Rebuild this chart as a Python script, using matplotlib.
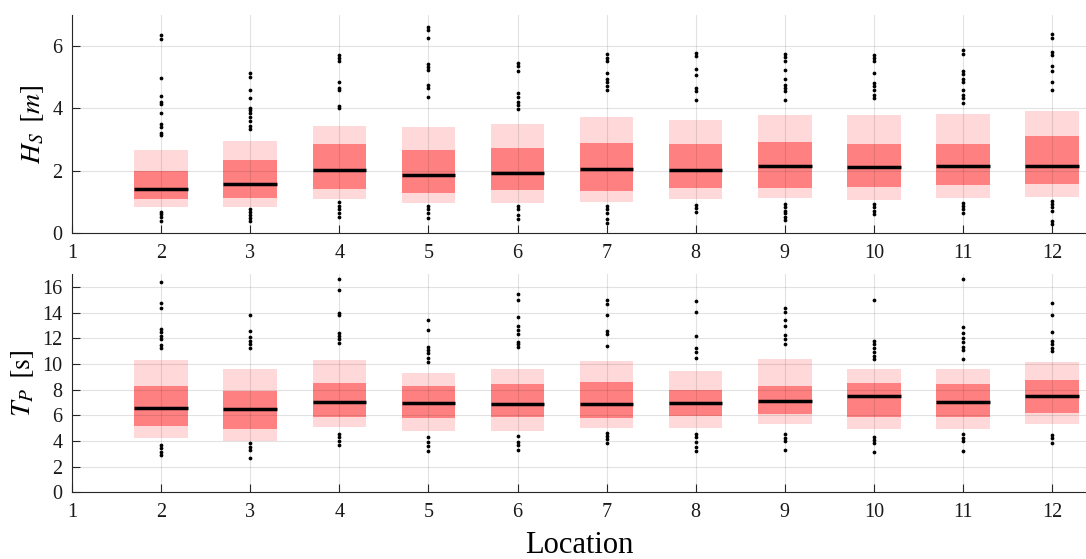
import matplotlib
matplotlib.use("Agg")
import matplotlib.pyplot as plt
import numpy as np

plt.rcParams['font.family'] = ['Liberation Serif', 'DejaVu Serif']
plt.rcParams['mathtext.fontset'] = 'stix'

locations = [2, 3, 4, 5, 6, 7, 8, 9, 10, 11, 12]
xtick_labels = ['1', '2', '3', '4', '5', '6', '7', '8', '9', '10', '11', '12']

# Significant wave height Hs [m]
hs_p05 = [0.83, 0.82, 1.09, 0.97, 0.97, 1.01, 1.08, 1.12, 1.06, 1.12, 1.16]
hs_q1 = [1.08, 1.11, 1.42, 1.29, 1.39, 1.36, 1.43, 1.43, 1.48, 1.55, 1.57]
hs_med = [1.42, 1.57, 2.03, 1.85, 1.92, 2.07, 2.01, 2.15, 2.12, 2.14, 2.16]
hs_q3 = [1.99, 2.36, 2.85, 2.67, 2.73, 2.89, 2.87, 2.92, 2.85, 2.86, 3.10]
hs_p95 = [2.66, 2.95, 3.43, 3.39, 3.50, 3.74, 3.62, 3.80, 3.79, 3.81, 3.91]
hs_out = [
    [6.35, 6.24, 4.99, 4.40, 4.21, 4.13, 3.86, 3.49, 3.41, 3.21, 3.16, 0.68, 0.61, 0.52, 0.39],
    [5.14, 5.01, 4.60, 4.34, 4.02, 3.94, 3.84, 3.73, 3.60, 3.43, 3.33, 0.76, 0.66, 0.58, 0.47, 0.39],
    [5.71, 5.63, 5.51, 4.85, 4.64, 4.58, 4.08, 4.02, 0.98, 0.88, 0.77, 0.63, 0.50],
    [6.63, 6.51, 6.27, 5.42, 5.33, 5.25, 4.74, 4.64, 4.37, 0.87, 0.76, 0.63, 0.47],
    [5.46, 5.35, 5.20, 4.48, 4.37, 4.21, 4.10, 3.97, 0.88, 0.76, 0.58, 0.44],
    [5.74, 5.63, 5.52, 5.14, 4.94, 4.85, 4.71, 4.58, 0.88, 0.76, 0.63, 0.44, 0.33],
    [5.78, 5.67, 5.28, 5.06, 4.67, 4.56, 4.26, 0.90, 0.79, 0.68],
    [5.76, 5.65, 5.52, 5.25, 4.94, 4.74, 4.67, 4.56, 4.28, 0.92, 0.82, 0.71, 0.63, 0.52, 0.42],
    [5.71, 5.63, 5.52, 5.14, 4.82, 4.71, 4.60, 4.42, 4.32, 0.93, 0.82, 0.71, 0.61],
    [5.87, 5.76, 5.20, 5.10, 4.93, 4.85, 4.60, 4.44, 4.32, 4.18, 0.97, 0.87, 0.76, 0.63],
    [6.38, 6.27, 5.81, 5.71, 5.36, 5.20, 4.85, 4.58, 1.04, 0.93, 0.82, 0.71, 0.39, 0.30],
]

# Peak period Tp [s]
tp_p05 = [4.25, 4.00, 5.10, 4.80, 4.80, 5.03, 4.98, 5.32, 4.95, 4.93, 5.29]
tp_q1 = [5.16, 4.93, 5.86, 5.76, 5.84, 5.81, 5.94, 6.09, 5.88, 5.84, 6.20]
tp_med = [6.56, 6.51, 7.00, 6.97, 6.87, 6.90, 6.95, 7.13, 7.47, 7.03, 7.52]
tp_q3 = [8.27, 7.88, 8.53, 8.27, 8.40, 8.56, 7.96, 8.27, 8.48, 8.43, 8.72]
tp_p95 = [10.30, 9.57, 10.30, 9.26, 9.57, 10.24, 9.46, 10.37, 9.60, 9.60, 10.12]
tp_out = [
    [16.34, 14.76, 14.32, 12.71, 12.50, 12.16, 11.90, 11.46, 11.25, 3.68, 3.42, 3.16, 2.90],
    [13.80, 12.60, 12.06, 11.80, 11.52, 11.20, 3.81, 3.55, 3.29, 2.64],
    [16.60, 15.74, 14.00, 13.80, 12.37, 12.16, 11.90, 11.60, 4.54, 4.28, 4.02, 3.68],
    [13.41, 12.63, 11.33, 11.07, 10.82, 10.43, 10.16, 4.28, 3.94, 3.60, 3.19],
    [15.41, 14.96, 13.67, 12.94, 12.63, 12.30, 11.72, 11.54, 11.28, 4.38, 3.94, 3.68, 3.29],
    [14.96, 14.70, 13.80, 12.60, 12.32, 11.40, 4.64, 4.38, 4.12, 3.81],
    [14.91, 14.06, 12.19, 11.20, 10.95, 10.43, 4.54, 4.28, 3.94, 3.55, 3.24],
    [14.32, 14.06, 13.41, 12.94, 12.24, 11.90, 11.52, 4.51, 4.25, 3.99, 3.29],
    [14.96, 11.80, 11.52, 11.20, 10.95, 10.60, 10.35, 4.33, 4.07, 3.86, 3.16],
    [16.60, 12.84, 12.42, 11.98, 11.72, 11.33, 11.07, 10.35, 4.51, 4.25, 3.99, 3.24],
    [14.71, 13.80, 12.50, 11.80, 11.52, 11.25, 10.99, 4.46, 4.20, 3.86],
]

W, H = 1086, 559
fig = plt.figure(figsize=(W / 100, H / 100), dpi=100)
ax1 = fig.add_axes([72 / W, 1 - 233 / H, 1 - 72 / W, (233 - 15) / H])
ax2 = fig.add_axes([72 / W, 1 - 492.3 / H, 1 - 72 / W, (492.3 - 274) / H])

light = '#FFD9D9'
dark = '#FF8080'
axcol = '#262626'
bw = 0.6


def draw(ax, p05, q1, med, q3, p95, outs, ylim, yticks, ylabel):
    x = np.array(locations, dtype=float)
    ax.bar(x, np.array(p95) - np.array(p05), bottom=p05, width=bw,
           color=light, linewidth=0, zorder=1)
    ax.bar(x, np.array(q3) - np.array(q1), bottom=q1, width=bw,
           color=dark, linewidth=0, zorder=2)
    ax.hlines(med, x - bw / 2, x + bw / 2, colors='black', linewidth=2.5, zorder=4)
    for xi, o in zip(locations, outs):
        ax.plot([xi] * len(o), o, 'o', color='black', markersize=2.7,
                markeredgewidth=0, zorder=5)
    ax.set_xlim(1, 12.38)
    ax.set_ylim(*ylim)
    ax.set_xticks(range(1, 13))
    ax.set_xticklabels(xtick_labels)
    ax.set_yticks(yticks)
    ax.grid(True, color=(0.15, 0.15, 0.15), alpha=0.13, linewidth=0.8, zorder=3)
    ax.set_axisbelow(False)
    for s in ['top', 'right']:
        ax.spines[s].set_visible(False)
    for s in ['left', 'bottom']:
        ax.spines[s].set_color(axcol)
        ax.spines[s].set_linewidth(0.8)
    ax.tick_params(direction='in', length=6, width=0.8, color=axcol,
                   labelsize=14.5, labelcolor='#1a1a1a', pad=7)
    ax.tick_params(axis='x', pad=8)
    ax.set_ylabel(ylabel, fontsize=20, labelpad=4)


draw(ax1, hs_p05, hs_q1, hs_med, hs_q3, hs_p95, hs_out, (0, 7), [0, 2, 4, 6], r'$H_S\ \,[m]$')
draw(ax2, tp_p05, tp_q1, tp_med, tp_q3, tp_p95, tp_out, (0, 17), list(range(0, 17, 2)), r'$T_P\ \,[\mathrm{s}]$')
ax2.set_xlabel('Location', fontsize=22, labelpad=6)

fig.savefig('out.png', dpi=100)
